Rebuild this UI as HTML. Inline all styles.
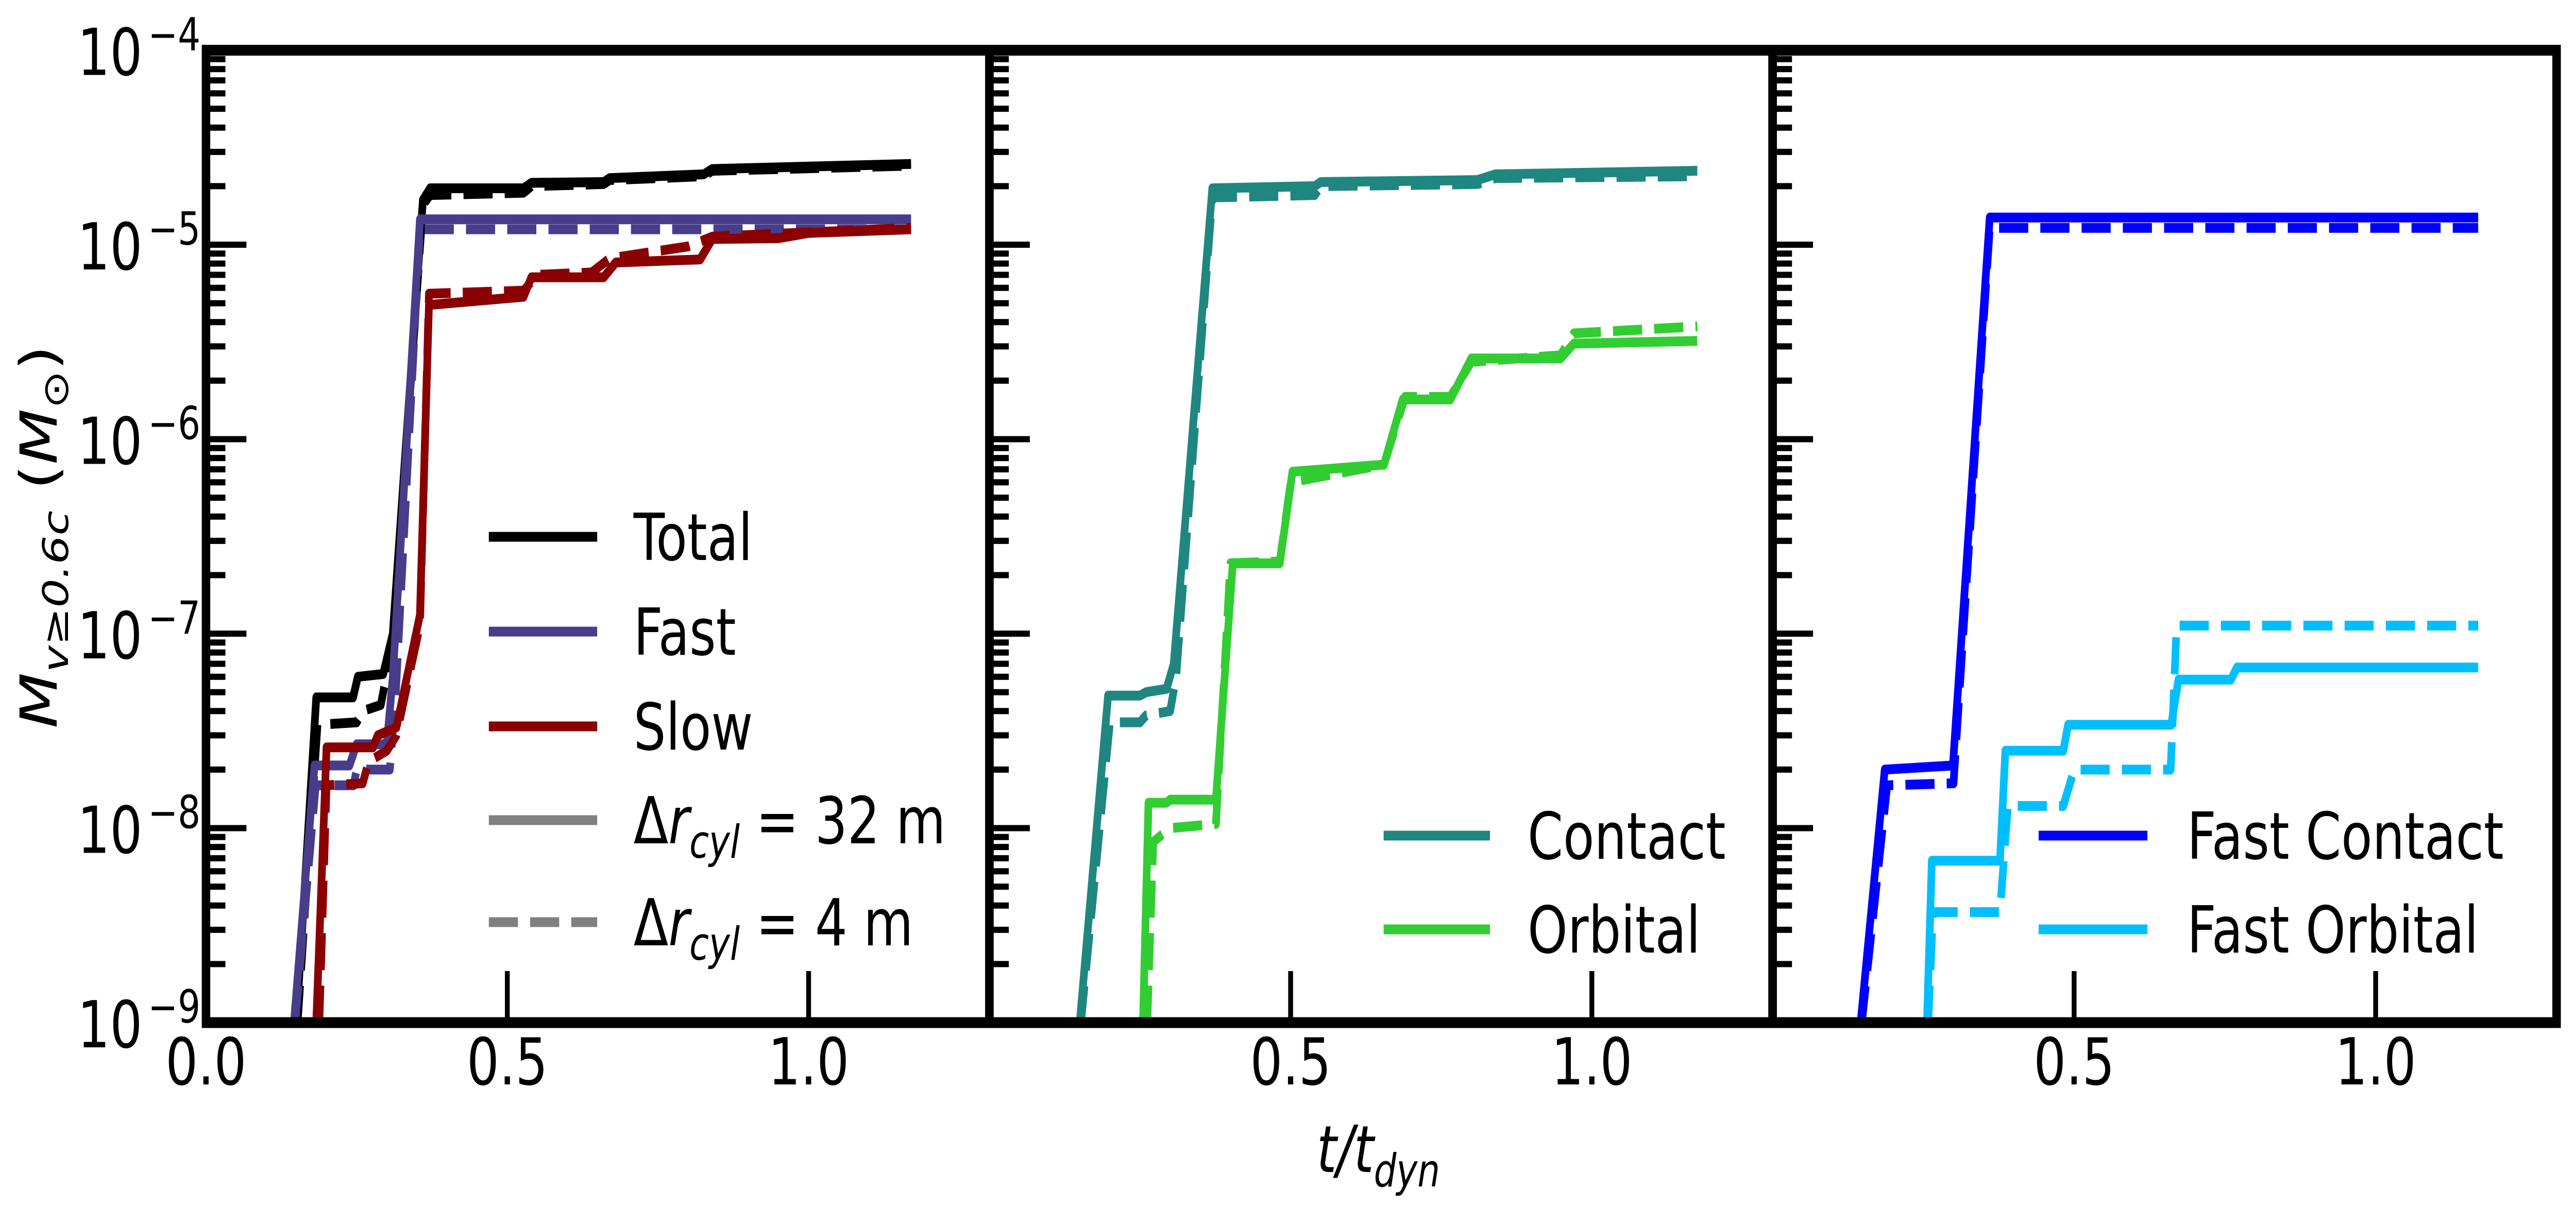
<!DOCTYPE html>
<html><head><meta charset="utf-8"><style>
html,body{margin:0;padding:0;background:#fff;overflow:hidden;width:100vw;height:100vh;}
svg{display:block;font-family:"DejaVu Sans","Liberation Sans",sans-serif;}
</style></head>
<body>
<svg id="chart" xmlns="http://www.w3.org/2000/svg" width="100%" height="100%" viewBox="0 0 6371 2341" preserveAspectRatio="none" overflow="hidden">
<rect width="6371" height="2341" fill="#fff"/>
<defs>
<clipPath id="c0"><rect x="509.5" y="97.5" width="1937.5" height="1887.5"/></clipPath>
<clipPath id="c1"><rect x="2447" y="97.5" width="1937" height="1887.5"/></clipPath>
<clipPath id="c2"><rect x="4384" y="97.5" width="1939" height="1887.5"/></clipPath>
</defs>
<g id="marks"></g>
<g id="axes"></g>
<text transform="translate(140,1042) rotate(-90)" text-anchor="middle" font-size="126" font-style="italic">M<tspan font-size="88" dy="28">v≥0.6c</tspan><tspan dy="-28" font-style="normal"> (</tspan>M<tspan font-size="88" dy="28" font-style="normal">⊙</tspan><tspan dy="-28" font-style="normal">)</tspan></text>
<text x="3409" y="2275" text-anchor="middle" font-size="126" font-style="italic">t/t<tspan font-size="88" dy="28">dyn</tspan></text>
</svg>
<script>
const xTicks = [0.5, 1.0];
const xTickLabelsP1 = ["0.0", "0.5", "1.0"];
const xTickLabelsP = ["0.5", "1.0"];
const yDecades = [-4, -5, -6, -7, -8, -9];

const totalSolid = [[0.15,1e-9],[0.183,4.7e-8],[0.244,4.7e-8],[0.252,6e-8],[0.294,6.2e-8],[0.31,1e-7],[0.36,1.7e-5],[0.372,1.95e-5],[0.527,1.95e-5],[0.54,2.08e-5],[0.66,2.1e-5],[0.67,2.2e-5],[0.826,2.3e-5],[0.84,2.45e-5],[1.17,2.6e-5]];
const totalDashed = [[0.152,1e-9],[0.185,3.4e-8],[0.25,3.5e-8],[0.26,4e-8],[0.29,4.3e-8],[0.31,9e-8],[0.36,1.6e-5],[0.372,1.8e-5],[0.527,1.85e-5],[0.54,2e-5],[0.66,2.05e-5],[0.67,2.15e-5],[0.826,2.25e-5],[0.84,2.4e-5],[1.17,2.55e-5]];
const fastSolid = [[0.146,1e-9],[0.18,2.1e-8],[0.238,2.1e-8],[0.25,2.7e-8],[0.3,2.7e-8],[0.31,6e-8],[0.355,1.35e-5],[1.17,1.35e-5]];
const fastDashed = [[0.148,1e-9],[0.182,1.66e-8],[0.245,1.66e-8],[0.25,2e-8],[0.305,2e-8],[0.315,5e-8],[0.355,1.2e-5],[1.17,1.2e-5]];
const slowSolid = [[0.183,1e-9],[0.2,2.6e-8],[0.277,2.6e-8],[0.285,3e-8],[0.316,3.3e-8],[0.355,1.25e-7],[0.37,4.9e-6],[0.527,5.4e-6],[0.54,6.8e-6],[0.66,6.8e-6],[0.68,8.1e-6],[0.82,8.4e-6],[0.84,1.07e-5],[0.95,1.08e-5],[1.0,1.15e-5],[1.17,1.2e-5]];
const slowDashed = [[0.188,1e-9],[0.2,1.66e-8],[0.26,1.7e-8],[0.27,2.2e-8],[0.3,2.5e-8],[0.316,3e-8],[0.355,1.1e-7],[0.37,5.6e-6],[0.527,5.8e-6],[0.55,7e-6],[0.64,7.2e-6],[0.67,8.5e-6],[0.8,9.8e-6],[0.84,1.1e-5],[1.17,1.22e-5]];
const contactSolid = [[0.15,1e-9],[0.197,4.8e-8],[0.25,4.8e-8],[0.26,5e-8],[0.294,5.2e-8],[0.306,7e-8],[0.37,1.95e-5],[0.54,2e-5],[0.55,2.1e-5],[0.81,2.15e-5],[0.84,2.3e-5],[1.175,2.4e-5]];
const contactDashed = [[0.152,1e-9],[0.2,3.5e-8],[0.25,3.5e-8],[0.26,3.8e-8],[0.3,4e-8],[0.31,6e-8],[0.37,1.75e-5],[0.54,1.8e-5],[0.55,2e-5],[0.81,2.05e-5],[0.84,2.2e-5],[1.175,2.25e-5]];
const orbitalSolid = [[0.255,1e-9],[0.264,1.35e-8],[0.294,1.35e-8],[0.3,1.4e-8],[0.376,1.4e-8],[0.404,2.3e-7],[0.482,2.3e-7],[0.503,6.8e-7],[0.655,7.4e-7],[0.686,1.6e-6],[0.765,1.6e-6],[0.8,2.6e-6],[0.948,2.6e-6],[0.97,3.1e-6],[1.175,3.2e-6]];
const orbitalDashed = [[0.262,1e-9],[0.272,8.5e-9],[0.3,1e-8],[0.376,1.05e-8],[0.4,2.3e-7],[0.482,2.35e-7],[0.5,6e-7],[0.655,7.4e-7],[0.69,1.65e-6],[0.765,1.65e-6],[0.8,2.5e-6],[0.948,2.7e-6],[0.97,3.5e-6],[1.175,3.8e-6]];
const fastContactSolid = [[0.146,1e-9],[0.186,2e-8],[0.299,2.1e-8],[0.36,1.38e-5],[1.17,1.38e-5]];
const fastContactDashed = [[0.148,1e-9],[0.19,1.66e-8],[0.3,1.7e-8],[0.36,1.22e-5],[1.17,1.22e-5]];
const fastOrbitalSolid = [[0.256,1e-9],[0.264,6.8e-9],[0.377,6.8e-9],[0.386,2.5e-8],[0.482,2.5e-8],[0.49,3.4e-8],[0.661,3.4e-8],[0.673,5.8e-8],[0.76,5.8e-8],[0.77,6.7e-8],[1.17,6.7e-8]];
const fastOrbitalDashed = [[0.258,1e-9],[0.266,3.7e-9],[0.377,3.7e-9],[0.39,1.3e-8],[0.482,1.3e-8],[0.5,2e-8],[0.66,2e-8],[0.67,1.1e-7],[1.17,1.1e-7]];

const NS = "http://www.w3.org/2000/svg";
const panelLeft = [509.5, 2447, 4384];
const panelRight = [2447, 4384, 6323];
const yTop = 97.5, yBot = 1985;
function xs(p, t) { return panelLeft[p] + t / 1.3 * (panelRight[p] - panelLeft[p]); }
function ys(v) { return yBot - (Math.log10(v) + 9) / 5 * (yBot - yTop); }
const marks = document.getElementById('marks');
const axes = document.getElementById('axes');
function mk(tag, attrs, parent) {
  const e = document.createElementNS(NS, tag);
  for (const k in attrs) e.setAttribute(k, attrs[k]);
  parent.appendChild(e);
  return e;
}
function drawSeries(p, data, color, dashed, name) {
  const pts = data.map(d => xs(p, d[0]).toFixed(1) + ',' + ys(d[1]).toFixed(1)).join(' ');
  const pl = mk('polyline', {points: pts, fill: 'none', stroke: color, 'stroke-width': 19,
    'stroke-linejoin': 'round', 'clip-path': 'url(#c' + p + ')'}, marks);
  if (dashed) pl.setAttribute('stroke-dasharray', '72 30');
  
  
}
drawSeries(0, totalSolid, '#000', false, 'total-line');
drawSeries(0, totalDashed, '#000', true, 'total-dashed-line');
drawSeries(0, fastSolid, '#483d8b', false, 'fast-line');
drawSeries(0, fastDashed, '#483d8b', true, 'fast-dashed-line');
drawSeries(0, slowSolid, '#8b0000', false, 'slow-line');
drawSeries(0, slowDashed, '#8b0000', true, 'slow-dashed-line');
drawSeries(1, contactSolid, '#1f877f', false, 'contact-line');
drawSeries(1, contactDashed, '#1f877f', true, 'contact-dashed-line');
drawSeries(1, orbitalSolid, '#32cd32', false, 'orbital-line');
drawSeries(1, orbitalDashed, '#32cd32', true, 'orbital-dashed-line');
drawSeries(2, fastContactSolid, '#0000ff', false, 'fast-contact-line');
drawSeries(2, fastContactDashed, '#0000ff', true, 'fast-contact-dashed-line');
drawSeries(2, fastOrbitalSolid, '#00bfff', false, 'fast-orbital-line');
drawSeries(2, fastOrbitalDashed, '#00bfff', true, 'fast-orbital-dashed-line');

for (let p = 0; p < 3; p++) {
  const fr = mk('rect', {x: panelLeft[p], y: yTop, width: panelRight[p] - panelLeft[p], height: yBot - yTop,
    fill: 'none', stroke: '#000', 'stroke-width': 21}, axes);
  
  
  for (let d = -9; d < -4; d++) {
    for (let m = 1; m < 10; m++) {
      const yy = ys(m * Math.pow(10, d));
      const len = m === 1 ? 100 : 48;
      const t = mk('line', {x1: panelLeft[p], x2: panelLeft[p] + len, y1: yy, y2: yy, stroke: '#000', 'stroke-width': 12}, axes);
      
      
    }
  }
  xTicks.forEach(v => {
    const xx = xs(p, v);
    const t = mk('line', {x1: xx, x2: xx, y1: yBot, y2: yBot - 100, stroke: '#000', 'stroke-width': 12}, axes);
    
    
  });
  const labels = p === 0 ? xTickLabelsP1 : xTickLabelsP;
  labels.forEach(l => {
    const tx = mk('text', {x: xs(p, parseFloat(l)), y: 2105, 'text-anchor': 'middle', 'font-size': 126}, axes);
    tx.textContent = l;
    
    
  });
}
yDecades.forEach(d => {
  const yy = ys(Math.pow(10, d));
  const t = mk('text', {x: 352, y: yy + 48, 'text-anchor': 'end', 'font-size': 126}, axes);
  t.textContent = '10';
  
  
  const s = mk('text', {x: 366, y: yy, 'font-size': 88}, axes);
  s.textContent = '\u2212' + (-d);
  
  
});

function legend(x1, x2, tx, y, color, dashed, label, name) {
  const g = mk('g', {}, axes);
  
  
  const l = mk('line', {x1: x1, x2: x2, y1: y, y2: y, stroke: color, 'stroke-width': 19}, g);
  if (dashed) l.setAttribute('stroke-dasharray', '72 30');
  const t = mk('text', {x: tx, y: y + 45, 'font-size': 126}, g);
  t.innerHTML = label;
}
const dr = (v) => 'Δ<tspan font-style="italic">r</tspan><tspan font-style="italic" font-size="88" dy="28">cyl</tspan><tspan dy="-28"> =  ' + v + ' m</tspan>';
legend(1209, 1477, 1567, 1042, '#000', false, 'Total', 'legend-total');
legend(1209, 1477, 1567, 1226, '#483d8b', false, 'Fast', 'legend-fast');
legend(1209, 1477, 1567, 1410, '#8b0000', false, 'Slow', 'legend-slow');
legend(1209, 1477, 1567, 1592, '#808080', false, dr('32'), 'legend-32m');
legend(1209, 1477, 1567, 1790, '#808080', true, dr('4'), 'legend-4m');
legend(3422, 3685, 3778, 1622, '#1f877f', false, 'Contact', 'legend-contact');
legend(3422, 3685, 3778, 1804, '#32cd32', false, 'Orbital', 'legend-orbital');
legend(5042, 5311, 5409, 1622, '#0000ff', false, 'Fast Contact', 'legend-fast-contact');
legend(5042, 5311, 5409, 1804, '#00bfff', false, 'Fast Orbital', 'legend-fast-orbital');
</script>
</body></html>
